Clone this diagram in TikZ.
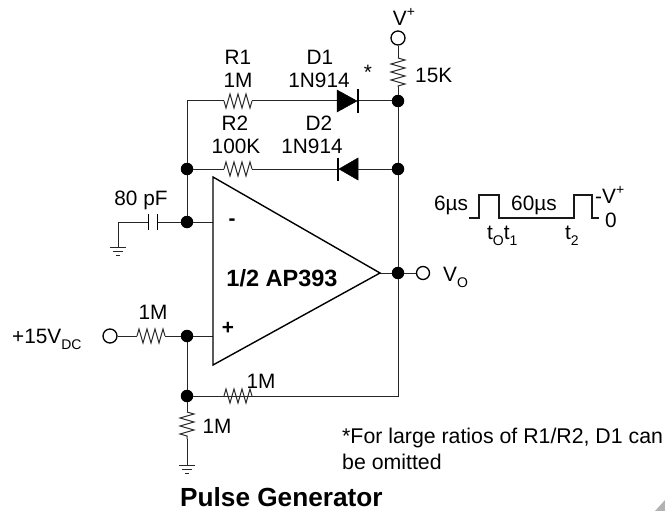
\documentclass[tikz,border=0pt]{standalone}
\usepackage{fontspec}
\setmainfont{Liberation Sans}
\usetikzlibrary{decorations.pathmorphing}
\newcommand{\supp}[1]{\raisebox{0.4em}{\fontsize{14}{14}\selectfont #1}}
\newcommand{\subb}[1]{\raisebox{-0.3em}{\fontsize{14}{14}\selectfont #1}}
\tikzset{
  wire/.style={line width=1pt,draw=black!85},
  res/.style={wire,decorate,decoration={zigzag,segment length=8pt,amplitude=7pt}},
  lbl/.style={inner sep=0pt,font=\fontsize{20.8}{24}\selectfont},
  notelbl/.style={lbl,anchor=base west,font=\fontsize{21.3}{24}\selectfont},
  dot/.style={circle,fill=black,draw=none,minimum size=12.5pt,inner sep=0pt},
  term/.style={circle,draw=black,line width=1.3pt,fill=white,minimum size=14pt,inner sep=0pt},
  diode/.style={fill=black,draw=black,line width=.5pt},
  bar/.style={line width=1.4pt,draw=black},
}
\begin{document}
\begin{tikzpicture}[x=1pt,y=-1pt]
\useasboundingbox (0,0) rectangle (665,511);
% junctions and terminals
\node[term] (vp) at (398,38) {};
\node[dot] (n1) at (398,101) {};
\node[dot] (n2) at (398,169) {};
\node[dot] (n3) at (187,169) {};
\node[dot] (n4) at (187,222) {};
\node[dot] (n5) at (398,273) {};
\node[term,minimum size=13pt] (vo) at (423,273) {};
\node[term] (vin) at (110,336) {};
\node[dot] (n6) at (187,336) {};
\node[dot] (n7) at (187,396) {};
% coordinates
\coordinate (tl) at (187,101);
\coordinate (br) at (398,396);
\coordinate (ra1) at (398,58);  \coordinate (ra2) at (398,87);
\coordinate (r1a) at (224,101); \coordinate (r1b) at (252,101);
\coordinate (r2a) at (224,169); \coordinate (r2b) at (252,169);
\coordinate (r3a) at (137,336); \coordinate (r3b) at (165,336);
\coordinate (r4a) at (224,396); \coordinate (r4b) at (252,396);
\coordinate (r5a) at (187,412); \coordinate (r5b) at (187,439);
\coordinate (d1a) at (337,101); \coordinate (d1k) at (358,101);
\coordinate (d2a) at (358,169); \coordinate (d2k) at (338,169);
\coordinate (c1) at (148,222);  \coordinate (c2) at (157,222);
\coordinate (g1) at (118,247);  \coordinate (g1t) at (118,222);
\coordinate (g2) at (187,465);
\coordinate (ain) at (213,222); \coordinate (aip) at (213,336);
\coordinate (aout) at (380,273);
% wires
\draw[wire] (vp) -- (ra1);
\draw[res] (ra1) -- (ra2);
\draw[wire] (ra2) -- (n1);
\draw[wire] (n1) -- (n2) -- (n5) -- (br) -- (n7);
\draw[wire] (n1) -- (d1k);
\draw[wire] (d1a) -- (r1b);
\draw[res] (r1b) -- (r1a);
\draw[wire] (r1a) -- (tl) -- (n3) -- (n4);
\draw[wire] (n3) -- (r2a);
\draw[res] (r2a) -- (r2b);
\draw[wire] (r2b) -- (d2k);
\draw[wire] (d2a) -- (n2);
\draw[wire] (n4) -- (ain);
\draw[wire] (n4) -- (c2);
\draw[wire] (c1) -- (g1t) -- (g1);
\draw[wire] (aout) -- (n5) -- (vo);
\draw[wire] (vin) -- (r3a);
\draw[res] (r3a) -- (r3b);
\draw[wire] (r3b) -- (n6) -- (aip);
\draw[wire] (n6) -- (n7) -- (r4a);
\draw[res] (r4a) -- (r4b);
\draw[wire] (r4b) -- (br);
\draw[wire] (n7) -- (r5a);
\draw[res] (r5a) -- (r5b);
\draw[wire] (r5b) -- (g2);
% capacitor
\draw[bar,line width=1pt] (148,214) -- (148,230);
\draw[bar,line width=1pt] (157,214) -- (157,230);
% diodes
\fill[diode] (337,90) -- (357,101) -- (337,112) -- cycle;
\draw[bar] (358,89) -- (358,113);
\fill[diode] (358,158) -- (339,169) -- (358,180) -- cycle;
\draw[bar] (338,158) -- (338,181);
% grounds
\foreach \gx/\gy in {118/247,187/465}{
  \draw[wire] (\gx-8,\gy) -- (\gx+8,\gy);
  \draw[wire] (\gx-5,\gy+4) -- (\gx+5,\gy+4);
  \draw[wire] (\gx-2,\gy+8) -- (\gx+2,\gy+8);
}
% amplifier
\draw[line width=1.4pt,draw=black,line join=miter,fill=none] (213,177) -- (380,273) -- (213,365) -- cycle;
% labels
\node[lbl] (vpl) at (404,17) {V\supp{+}};
\node[lbl,anchor=west] (l15k) at (415,75) {15K};
\node[lbl] (lr1) at (238,57) {R1};
\node[lbl] (l1m) at (238,80) {1M};
\node[lbl] (ld1) at (320,57) {D1};
\node[lbl] (ln1) at (319,80) {1N914};
\node[lbl] (lst) at (368,72) {*};
\node[lbl] (lr2) at (235,123) {R2};
\node[lbl] (l100k) at (236,146) {100K};
\node[lbl] (ld2) at (319,123) {D2};
\node[lbl] (ln2) at (312,146) {1N914};
\node[lbl] (lc) at (141,200) {80 pF};
\node[lbl,font=\fontsize{20.8}{24}\selectfont\bfseries] (lminus) at (232,222) {-};
\node[lbl,font=\fontsize{20.8}{24}\selectfont\bfseries] (lplus) at (228,328) {+};
\node[lbl,font=\fontsize{23.5}{26}\selectfont\bfseries] (lamp) at (282,278) {1/2 AP393};
\node[lbl,anchor=base west] (lvo) at (443,281) {V\subb{O}};
\node[lbl,anchor=base west] (l15) at (12,343) {+15V\subb{DC}};
\node[lbl] (l1mb) at (153,312) {1M};
\node[lbl] (l1mc) at (261,381) {1M};
\node[lbl] (l1md) at (217,426) {1M};
\node[notelbl] (lnote1) at (342,443) {*For large ratios of R1/R2, D1 can};
\node[notelbl] (lnote2) at (342,469) {be omitted};
\node[lbl,font=\fontsize{26.2}{28}\selectfont\bfseries,anchor=base west] (ltitle) at (180,506) {Pulse Generator};
% waveform
\draw[line width=1.3pt,draw=black!90,line join=miter] (469,218) -- (479,218) -- (479,195) -- (499,195) -- (499,218) -- (574,218) -- (574,195) -- (592,195) -- (592,218) -- (599,218);
\node[lbl] (l6) at (451,205) {6µs};
\node[lbl] (l60) at (534,205) {60µs};
\node[lbl,anchor=west] (lvtop) at (595,195) {-V\supp{+}};
\node[lbl] (l0) at (611,220) {0};
\node[lbl,anchor=base west] (lt0) at (487,239) {t\subb{O}t\subb{1}};
\node[lbl,anchor=base west] (lt2) at (565,239) {t\subb{2}};
% corner mark
\fill[black!30] (655,511) -- (665,500) -- (665,511) -- cycle;
\end{tikzpicture}
\end{document}
